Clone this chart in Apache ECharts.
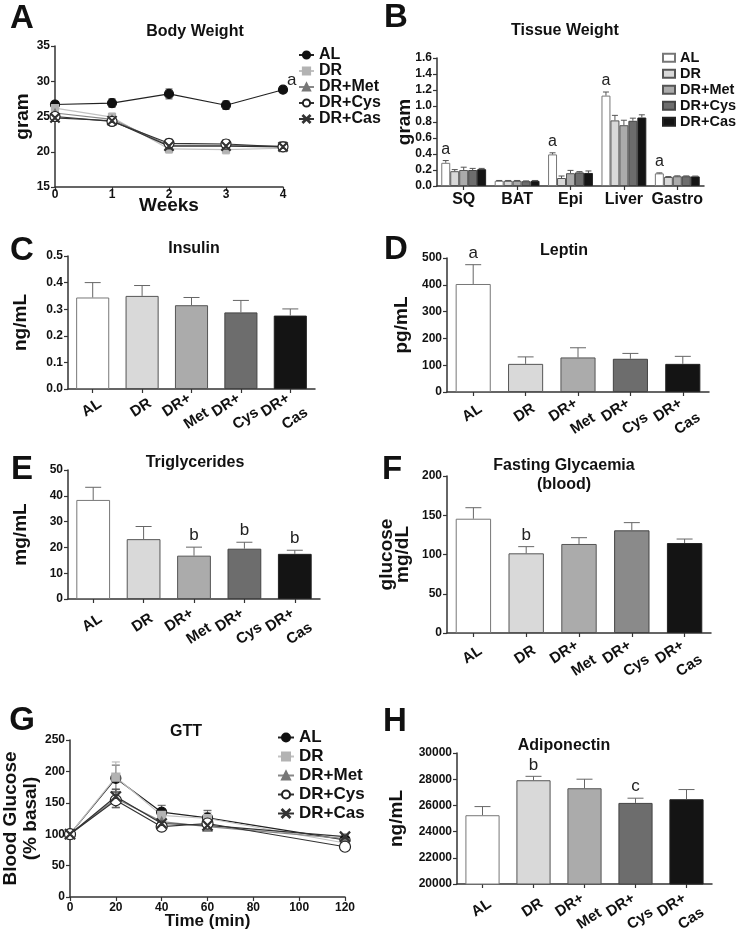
<!DOCTYPE html>
<html><head><meta charset="utf-8">
<script src="https://cdn.jsdelivr.net/npm/echarts@6/dist/echarts.min.js"></script>
<style>html,body{margin:0;padding:0;background:#fff}#c{width:738px;height:934px}</style>
</head><body><div id="c"></div>
<script>
// ---------- DATA ----------
const groups = ['AL', 'DR', 'DR+Met', 'DR+Cys', 'DR+Cas'];
const barCats = ['AL', 'DR', 'DR+\nMet', 'DR+\nCys', 'DR+\nCas'];

// A: Body weight (gram) by week
const weeks = [0, 1, 2, 3, 4];
const bwAL  = [26.7, 26.9, 28.2, 26.6, 28.8];
const bwDR  = [26.2, 24.9, 20.4, 20.3, 20.5];
const bwMet = [25.5, 24.6, 20.9, 20.9, 20.8];
const bwCys = [25.0, 24.3, 21.2, 21.1, 20.7];
const bwCas = [24.8, 24.4, 20.8, 20.8, 20.7];
const bwALe  = [0.4, 0.6, 0.7, 0.6, 0.4];
const bwDRe  = [0.5, 0.6, 0.6, 0.6, 0.5];
const bwMete = [0.5, 0.5, 0.6, 0.7, 0.6];
const bwCyse = [0.5, 0.5, 0.6, 0.6, 0.6];
const bwCase = [0.5, 0.5, 0.5, 0.5, 0.5];
const bwSig  = ['', '', '', '', 'a'];

// B: Tissue weight (gram)
const tissueCats = ['SQ', 'BAT', 'Epi', 'Liver', 'Gastro'];
const twAL  = [0.29, 0.065, 0.395, 1.13, 0.158];
const twDR  = [0.185, 0.065, 0.10, 0.82, 0.113];
const twMet = [0.20, 0.065, 0.16, 0.76, 0.122];
const twCys = [0.20, 0.060, 0.17, 0.815, 0.122];
const twCas = [0.21, 0.065, 0.163, 0.856, 0.120];
const twALe  = [0.028, 0.004, 0.020, 0.045, 0.006];
const twDRe  = [0.020, 0.004, 0.025, 0.063, 0.005];
const twMete = [0.035, 0.004, 0.035, 0.062, 0.005];
const twCyse = [0.020, 0.004, 0.010, 0.033, 0.004];
const twCase = [0.010, 0.004, 0.025, 0.034, 0.004];
const twSig  = ['a', '', 'a', 'a', 'a'];

// C: Insulin (ng/mL)
const insulin    = [0.344, 0.350, 0.315, 0.288, 0.276];
const insulinErr = [0.056, 0.039, 0.029, 0.045, 0.025];
const insulinSig = ['', '', '', '', ''];
// D: Leptin (pg/mL)
const leptin    = [403, 105, 129, 124, 105];
const leptinErr = [72, 26, 36, 20, 28];
const leptinSig = ['a', '', '', '', ''];
// E: Triglycerides (mg/mL)
const trig    = [38.4, 23.2, 16.8, 19.5, 17.5];
const trigErr = [4.9, 4.9, 3.3, 2.5, 1.4];
const trigSig = ['', '', 'b', 'b', 'b'];
// F: Fasting glycaemia (glucose mg/dL)
const glucose    = [145.6, 101.5, 113.4, 130.8, 114.6];
const glucoseErr = [14.0, 8.5, 8.0, 9.8, 5.1];
const glucoseSig = ['', 'b', '', '', ''];
// G: GTT (% basal)
const gttTime = [0, 20, 40, 60, 120];
const gAL  = [100, 189, 135, 126, 91];
const gDR  = [100, 191, 130, 125, 86];
const gMet = [100, 157, 120, 112, 93];
const gCys = [100, 154, 112, 117, 80];
const gCas = [100, 160, 117, 114, 96];
const gALe  = [0, 21, 11, 12, 4];
const gDRe  = [0, 24, 10, 10, 4];
const gMete = [0, 14, 8, 6, 4];
const gCyse = [0, 12, 6, 6, 4];
const gCase = [0, 12, 7, 6, 4];
// H: Adiponectin (ng/mL)
const adipo    = [25250, 27920, 27310, 26190, 26470];
const adipoErr = [660, 300, 690, 360, 740];
const adipoSig = ['', 'b', '', 'c', ''];

// ---------- STYLE ----------
const FONT = '"Liberation Sans", Arial, Helvetica, sans-serif';
const X_PATH = 'path://M0,0.7L0.7,0L5,4.3L9.3,0L10,0.7L5.7,5L10,9.3L9.3,10L5,5.7L0.7,10L0,9.3L4.3,5Z';
const barFill = ['#ffffff', '#d9d9d9', '#ababab', '#6d6d6d', '#141414'];
const barFillF = ['#ffffff', '#d9d9d9', '#ababab', '#8a8a8a', '#141414'];
const barBorder = ['#777777', '#555555', '#555555', '#444444', '#222222'];
const lineDefs = [
  {symbol: 'circle',   size: 9,  fill: '#111111', border: '#111111', line: '#222222'},
  {symbol: 'rect',     size: 7,  fill: '#b3b3b3', border: '#b3b3b3', line: '#c2c2c2'},
  {symbol: 'triangle', size: 8,  fill: '#777777', border: '#777777', line: '#888888'},
  {symbol: 'circle',   size: 10, fill: '#ffffff', border: '#222222', line: '#333333'},
  {symbol: X_PATH,     size: 9,  fill: '#333333', border: '#333333', line: '#333333'}
];

const grids = [
  {left: 55,  top: 46,  width: 228, height: 141}, // A
  {left: 437, top: 58,  width: 267, height: 128}, // B
  {left: 68,  top: 256, width: 247, height: 133}, // C
  {left: 447, top: 258, width: 262, height: 134}, // D
  {left: 68,  top: 470, width: 252, height: 129}, // E
  {left: 447, top: 476, width: 264, height: 157}, // F
  {left: 68,  top: 740, width: 277, height: 157}, // G
  {left: 457, top: 753, width: 255, height: 131}  // H
];

function axisCommon() {
  return {
    nameMoveOverlap: false,
    axisLine: {show: true, onZero: false, lineStyle: {color: '#333', width: 1.5}},
    axisTick: {show: true, length: 4, lineStyle: {color: '#333', width: 1.2}},
    splitLine: {show: false},
    axisLabel: {color: '#111', fontWeight: 'bold', fontSize: 12, fontFamily: FONT}
  };
}
function yAxis(gi, min, max, interval, name, nameGap, fmt, lh) {
  const a = axisCommon();
  return Object.assign(a, {
    type: 'value', gridIndex: gi, min, max, interval,
    name, nameLocation: 'middle', nameGap,
    nameTextStyle: {fontSize: 19, fontWeight: 'bold', color: '#111', fontFamily: FONT, lineHeight: lh || 21},
    axisLabel: Object.assign(a.axisLabel, {formatter: fmt || (v => String(v)), margin: 5})
  });
}
function catAxis(gi, cats, showLabel, fontSize) {
  const a = axisCommon();
  return Object.assign(a, {
    type: 'category', gridIndex: gi, data: cats,
    axisTick: Object.assign(a.axisTick, {alignWithLabel: true}),
    axisLabel: Object.assign(a.axisLabel, {show: showLabel, fontSize, interval: 0, margin: 6})
  });
}

function lineErr(color, cap) {
  return function (p, api) {
    const x = api.value(0), y = api.value(1), e = api.value(2);
    if (!e) return {type: 'group', children: []};
    const t = api.coord([x, y + e]), b = api.coord([x, y - e]);
    const st = {stroke: color, lineWidth: 1};
    return {type: 'group', children: [
      {type: 'line', shape: {x1: t[0], y1: t[1], x2: b[0], y2: b[1]}, style: st},
      {type: 'line', shape: {x1: t[0] - cap, y1: t[1], x2: t[0] + cap, y2: t[1]}, style: st},
      {type: 'line', shape: {x1: b[0] - cap, y1: b[1], x2: b[0] + cap, y2: b[1]}, style: st}
    ]};
  };
}
function barErr(k, n, gapFrac, color, cap, sig, sigSize) {
  return function (p, api) {
    const i = api.value(0), v = api.value(1), e = api.value(2);
    const band = api.size([1, 0])[0];
    const gw = band * (1 - gapFrac), bw = gw / n;
    const base = api.coord([i, v]);
    const top = api.coord([i, v + e]);
    const x = base[0] - gw / 2 + bw * (k + 0.5);
    const st = {stroke: color, lineWidth: 1};
    const ch = [
      {type: 'line', shape: {x1: x, y1: base[1], x2: x, y2: top[1]}, style: st},
      {type: 'line', shape: {x1: x - cap, y1: top[1], x2: x + cap, y2: top[1]}, style: st}
    ];
    const s = sig && sig[p.dataIndex];
    if (s) ch.push({type: 'text', x: x, y: top[1] - 3,
      style: {text: s, fill: '#222', fontSize: sigSize, fontFamily: FONT, align: 'center', verticalAlign: 'bottom'}});
    return {type: 'group', children: ch};
  };
}
// Rotated category labels (GraphPad style, block rotated about its centre, rising to the right)
function catLabels(cats, ymin, dy) {
  const th = 33 * Math.PI / 180;
  const u = [Math.cos(th), -Math.sin(th)], v = [Math.sin(th), Math.cos(th)];
  return function (p, api) {
    const i = api.value(0);
    const t = api.coord([i, ymin]);
    const lines = cats[i].split('\n');
    const ch = [];
    const mk = (txt, cx, cy) => ({type: 'text', x: cx, y: cy, rotation: th,
      style: {text: txt, fill: '#111', font: 'bold 15px ' + FONT, align: 'center', verticalAlign: 'middle'}});
    if (lines.length === 1) {
      ch.push(mk(lines[0], t[0] - 1, t[1] + 22 + dy));
    } else {
      const cx = t[0] - 5, cy = t[1] + 26 + dy;
      const a = 4.5, s = 11;
      ch.push(mk(lines[0], cx - a * u[0] - s * v[0], cy - a * u[1] - s * v[1]));
      ch.push(mk(lines[1], cx + a * u[0] + s * v[0], cy + a * u[1] + s * v[1]));
    }
    return {type: 'group', children: ch};
  };
}

const xAxes = [], yAxes = [], series = [];

// ---- A ----
xAxes.push(Object.assign(axisCommon(), {
  type: 'value', gridIndex: 0, min: 0, max: 4, interval: 1,
  name: 'Weeks', nameLocation: 'middle', nameGap: 9,
  nameTextStyle: {fontSize: 19, fontWeight: 'bold', color: '#111', fontFamily: FONT, verticalAlign: 'top'}
}));
xAxes[0].axisLabel.margin = 2;
yAxes.push(yAxis(0, 15, 35, 5, 'gram', 22));
const bwVals = [bwAL, bwDR, bwMet, bwCys, bwCas];
const bwErrs = [bwALe, bwDRe, bwMete, bwCyse, bwCase];
groups.forEach((g, k) => {
  series.push({type: 'custom', xAxisIndex: 0, yAxisIndex: 0, z: 2,
    renderItem: lineErr(k === 1 ? '#b0b0b0' : '#444', 3.5),
    data: weeks.map((w, j) => [w, bwVals[k][j], bwErrs[k][j]])});
});
groups.forEach((g, k) => {
  const d = lineDefs[k];
  series.push({type: 'line', name: g, xAxisIndex: 0, yAxisIndex: 0, z: 3,
    data: weeks.map((w, j) => [w, bwVals[k][j]]),
    symbol: d.symbol, symbolSize: d.size, showSymbol: true,
    lineStyle: {color: d.line, width: 1.2},
    itemStyle: {color: d.fill, borderColor: d.border, borderWidth: 1.2}});
});
series.push({type: 'custom', xAxisIndex: 0, yAxisIndex: 0, z: 4,
  data: weeks.map((w, j) => [w, bwAL[j]]),
  renderItem: function (p, api) {
    const s = bwSig[p.dataIndex];
    if (!s) return {type: 'group', children: []};
    const pt = api.coord([api.value(0), api.value(1)]);
    return {type: 'text', x: pt[0] + 4, y: pt[1] - 9,
      style: {text: s, fill: '#222', fontSize: 17, fontFamily: FONT, align: 'left', verticalAlign: 'middle'}};
  }});

// ---- B ----
xAxes.push(catAxis(1, tissueCats, true, 16));
yAxes.push(yAxis(1, 0, 1.6, 0.2, 'gram', 22, v => v.toFixed(1)));
const twVals = [twAL, twDR, twMet, twCys, twCas];
const twErrs = [twALe, twDRe, twMete, twCyse, twCase];
const bGap = 0.16;
groups.forEach((g, k) => {
  series.push({type: 'bar', name: g + ' ', xAxisIndex: 1, yAxisIndex: 1,
    barGap: '0%', barCategoryGap: (bGap * 100) + '%',
    data: twVals[k],
    itemStyle: {color: barFill[k], borderColor: barBorder[k], borderWidth: 1}});
});
groups.forEach((g, k) => {
  series.push({type: 'custom', xAxisIndex: 1, yAxisIndex: 1, z: 5,
    renderItem: barErr(k, 5, bGap, '#555', 3, k === 0 ? twSig : null, 16),
    data: tissueCats.map((c, j) => [j, twVals[k][j], twErrs[k][j]])});
});

// ---- C..H single bar panels ----
function barPanel(gi, vals, errs, sig, fills, ymin, ymax, yint, yname, nameGap, fmt, labDy, lh) {
  xAxes.push(catAxis(gi, barCats, false, 14));
  yAxes.push(yAxis(gi, ymin, ymax, yint, yname, nameGap, fmt, lh));
  series.push({type: 'bar', name: 'panel' + gi, xAxisIndex: gi, yAxisIndex: gi, barWidth: '67%',
    data: vals.map((v, j) => ({value: v, itemStyle: {color: fills[j], borderColor: barBorder[j], borderWidth: 1}}))});
  series.push({type: 'custom', xAxisIndex: gi, yAxisIndex: gi, z: 5,
    renderItem: barErr(0, 1, 0, '#666', 8, sig, 17),
    data: vals.map((v, j) => [j, v, errs[j]])});
  series.push({type: 'custom', xAxisIndex: gi, yAxisIndex: gi, z: 5, silent: true,
    renderItem: catLabels(barCats, ymin, labDy),
    data: barCats.map((c, j) => [j, ymin])});
}
barPanel(2, insulin, insulinErr, insulinSig, barFill, 0, 0.5, 0.1, 'ng/mL', 37, v => v.toFixed(1), -3);
barPanel(3, leptin, leptinErr, leptinSig, barFill, 0, 500, 100, 'pg/mL', 35, null, -1);
barPanel(4, trig, trigErr, trigSig, barFill, 0, 50, 10, 'mg/mL', 37, null, 2);
barPanel(5, glucose, glucoseErr, glucoseSig, barFillF, 0, 200, 50, 'glucose\nmg/dL', 36, null, 0, 16);

// ---- G ----
xAxes.push(Object.assign(axisCommon(), {
  type: 'value', gridIndex: 6, min: 0, max: 120, interval: 20,
  name: 'Time (min)', nameLocation: 'middle', nameGap: 16,
  nameTextStyle: {fontSize: 17, fontWeight: 'bold', color: '#111', fontFamily: FONT, verticalAlign: 'top'}
}));
xAxes[xAxes.length - 1].axisLabel.margin = 5;
yAxes.push(yAxis(6, 0, 250, 50, 'Blood Glucose\n(% basal)', 29, null, 20));
const gVals = [gAL, gDR, gMet, gCys, gCas];
const gErrs = [gALe, gDRe, gMete, gCyse, gCase];
groups.forEach((g, k) => {
  series.push({type: 'custom', xAxisIndex: 6, yAxisIndex: 6, z: 2,
    renderItem: lineErr(k === 1 ? '#b0b0b0' : '#555', 4),
    data: gttTime.map((t, j) => [t, gVals[k][j], gErrs[k][j]])});
});
groups.forEach((g, k) => {
  const d = lineDefs[k];
  series.push({type: 'line', name: g, xAxisIndex: 6, yAxisIndex: 6, z: 3,
    data: gttTime.map((t, j) => [t, gVals[k][j]]),
    symbol: d.symbol, symbolSize: d.size + 1, showSymbol: true,
    lineStyle: {color: d.line, width: 1.2},
    itemStyle: {color: d.fill, borderColor: d.border, borderWidth: 1.2}});
});

// ---- H ----
barPanel(7, adipo, adipoErr, adipoSig, barFill, 20000, 30000, 2000, 'ng/mL', 50, null, 2);

// ---------- GRAPHICS (panel letters, titles) ----------
const letters = [['A', 22, 19], ['B', 396, 18], ['C', 22, 251], ['D', 396, 250],
                 ['E', 22, 470], ['F', 392, 470], ['G', 22, 721], ['H', 395, 722]];
const titles = [['Body Weight', 195, 32], ['Tissue Weight', 565, 31], ['Insulin', 194, 249],
                ['Leptin', 564, 251], ['Triglycerides', 195, 463], ['Fasting Glycaemia', 564, 466],
                ['(blood)', 564, 485], ['GTT', 186, 732], ['Adiponectin', 564, 746]];
const graphic = [];
letters.forEach(([t, x, y]) => graphic.push({type: 'text', x, y,
  style: {text: t, fill: '#111', font: 'bold 33px ' + FONT, align: 'center', verticalAlign: 'middle'}}));
titles.forEach(([t, x, y]) => graphic.push({type: 'text', x, y,
  style: {text: t, fill: '#111', font: 'bold 16px ' + FONT, align: 'center', verticalAlign: 'middle'}}));

const legendText = {fontSize: 16, fontWeight: 'bold', color: '#111', fontFamily: FONT, lineHeight: 15.5};
const option = {
  animation: false,
  backgroundColor: '#fff',
  grid: grids,
  xAxis: xAxes,
  yAxis: yAxes,
  series,
  graphic,
  legend: [
    {orient: 'vertical', left: 298, top: 47, padding: 0, itemWidth: 15, itemHeight: 9, itemGap: 0,
     data: groups, textStyle: legendText, selectedMode: false},
    {orient: 'vertical', left: 662, top: 50, padding: 0, itemWidth: 12, itemHeight: 8, itemGap: 0.5, icon: 'rect',
     data: groups.map(g => g + ' '), formatter: n => n.trim(),
     textStyle: Object.assign({}, legendText, {fontSize: 14.5}), selectedMode: false},
    {orient: 'vertical', left: 277, top: 729, padding: 0, itemWidth: 16, itemHeight: 10, itemGap: 2,
     data: groups, textStyle: Object.assign({}, legendText, {fontSize: 17, lineHeight: 16.5}), selectedMode: false}
  ]
};
const chart = echarts.init(document.getElementById('c'));
chart.setOption(option);
</script>
</body></html>
